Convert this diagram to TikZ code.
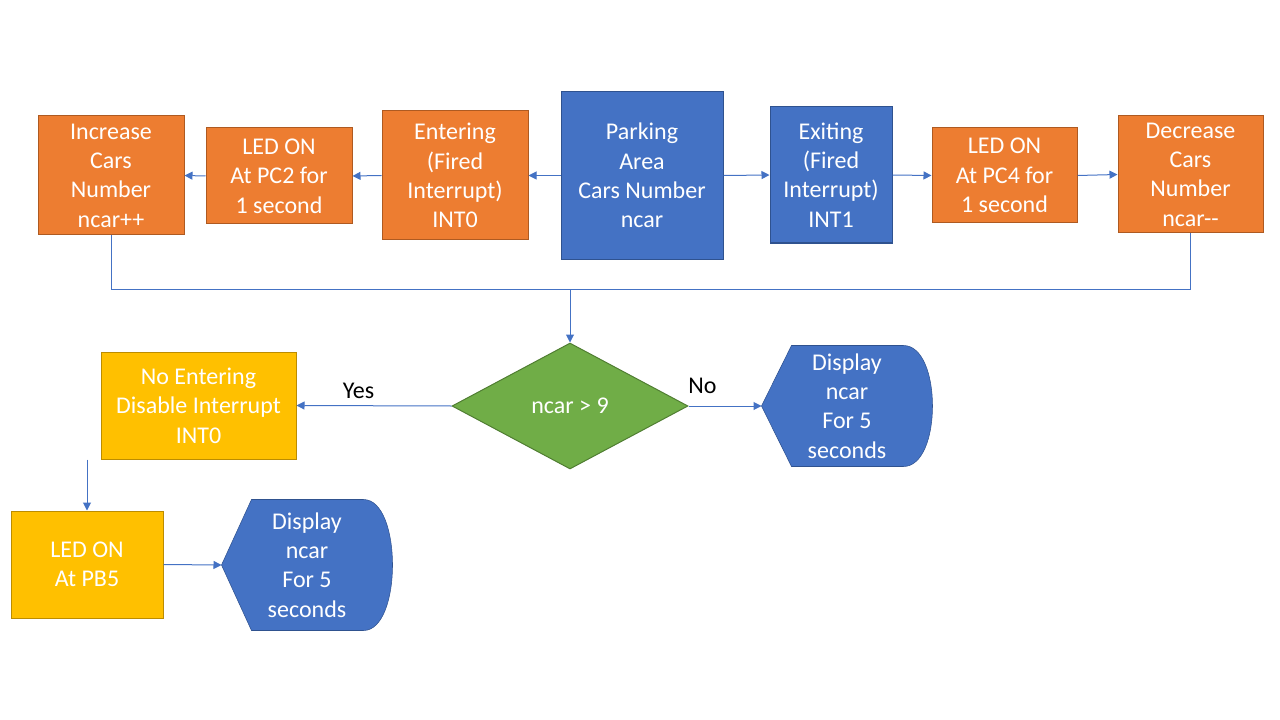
\documentclass[tikz,border=0pt]{standalone}
\usepackage{fontspec}
\setmainfont{Carlito}
\usetikzlibrary{arrows.meta,shapes.geometric,backgrounds}

\definecolor{boxorange}{RGB}{237,125,49}
\definecolor{lineorange}{RGB}{174,90,33}
\definecolor{boxblue}{RGB}{68,114,196}
\definecolor{lineblue}{RGB}{47,82,143}
\definecolor{boxgreen}{RGB}{112,173,71}
\definecolor{linegreen}{RGB}{80,126,50}
\definecolor{boxyellow}{RGB}{255,192,0}
\definecolor{lineyellow}{RGB}{188,140,0}

\tikzset{every picture/.style={line width=0.75pt}}
\tikzset{
  flowtext/.style={align=center, text=white, inner sep=0.75pt, font=\fontsize{18}{22}\selectfont},
  orangebox/.style={flowtext, rectangle, draw=lineorange, fill=boxorange},
  bluebox/.style={flowtext, rectangle, draw=lineblue, fill=boxblue},
  yellowbox/.style={flowtext, rectangle, draw=lineyellow, fill=boxyellow},
  decision/.style={flowtext, diamond, draw=linegreen, fill=boxgreen, inner sep=0pt},
  dispnode/.style={flowtext, rectangle},
  dispshape/.style={draw=lineblue, fill=boxblue},
  conn/.style={draw=boxblue, -{Triangle[length=6pt,width=6pt]}},
  branch/.style={text=black, inner sep=0.75pt, font=\fontsize{18}{22}\selectfont},
}

\begin{document}
\begin{tikzpicture}[x=0.75pt,y=0.75pt,yscale=-1,xscale=1]
\useasboundingbox (0,0) rectangle (1280,720);

% Top row
\node [orangebox, minimum width=109.5pt, minimum height=89.25pt] (inc) at (111,175.5) {Increase\\Cars\\Number\\ncar++};
\node [orangebox, minimum width=109.5pt, minimum height=72pt] (ledA) at (279,176) {LED ON\\At PC2 for\\1 second};
\node [orangebox, minimum width=109.5pt, minimum height=96.75pt] (enter) at (455,175.5) {Entering\\(Fired\\Interrupt)\\INT0};
\node [bluebox, minimum width=121.5pt, minimum height=125.25pt] (park) at (642,175.5) {Parking\\Area\\Cars Number\\ncar};
\node [bluebox, minimum width=91.5pt, minimum height=102pt] (exit) at (831,175) {Exiting\\(Fired\\Interrupt)\\INT1};
\node [orangebox, minimum width=108.75pt, minimum height=71.25pt] (ledB) at (1004.5,175.5) {LED ON\\At PC4 for\\1 second};
\node [orangebox, minimum width=108.75pt, minimum height=87.75pt] (dec) at (1190.5,174.5) {Decrease\\Cars\\Number\\ncar-{}-};

% Decision
\coordinate (merge) at (570,289);
\node [decision, minimum width=177pt, minimum height=94.5pt] (cond) at (570,406) {ncar > 9};

% Lower part
\node [yellowbox, minimum width=146.25pt, minimum height=80.25pt] (noent) at (198.5,405.5) {No Entering\\Disable Interrupt\\INT0};
\node [yellowbox, minimum width=114pt, minimum height=80.25pt] (ledC) at (87,564.5) {LED ON\\At PB5};
\node [dispnode, minimum width=127.5pt, minimum height=90pt] (dispA) at (847,406) {Display\\ncar\\For 5\\seconds};
\node [dispnode, minimum width=127.5pt, minimum height=97.5pt] (dispB) at (307,565) {Display\\ncar\\For 5\\seconds};

% Display shapes
\begin{scope}[on background layer]
\foreach \d in {dispA,dispB}
  \draw [dispshape] (\d.west) -- ([xshift=22.5pt]\d.north west) -- ([xshift=-21.75pt]\d.north east)
    .. controls ([xshift=7.25pt]\d.north east) and ([xshift=7.25pt]\d.south east) .. ([xshift=-21.75pt]\d.south east)
    -- ([xshift=22.5pt]\d.south west) -- cycle;
\end{scope}

%Straight Lines
\draw [conn] (park.west) -- (enter.east);
\draw [conn] (enter.west) -- (ledA.east);
\draw [conn] (ledA.west) -- (inc.east);
\draw [conn] (park.east) -- (exit.west);
\draw [conn] (exit.east) -- (ledB.west);
\draw [conn] (ledB.east) -- (dec.west);

\draw [draw=boxblue] (inc.south) |- (merge);
\draw [draw=boxblue] (dec.south) |- (merge);
\draw [conn] (merge) -- (cond.north);

\draw [conn] (cond.west) -- node [branch, pos=0.6, yshift=11.25pt] {Yes} (noent.east);
\draw [conn] (cond.east) -- node [branch, pos=0.19, yshift=15pt] {No} (dispA.west);
\draw [conn] (noent.south -| ledC.north) -- (ledC.north);
\draw [conn] (ledC.east) -- (dispB.west);

\end{tikzpicture}
\end{document}
